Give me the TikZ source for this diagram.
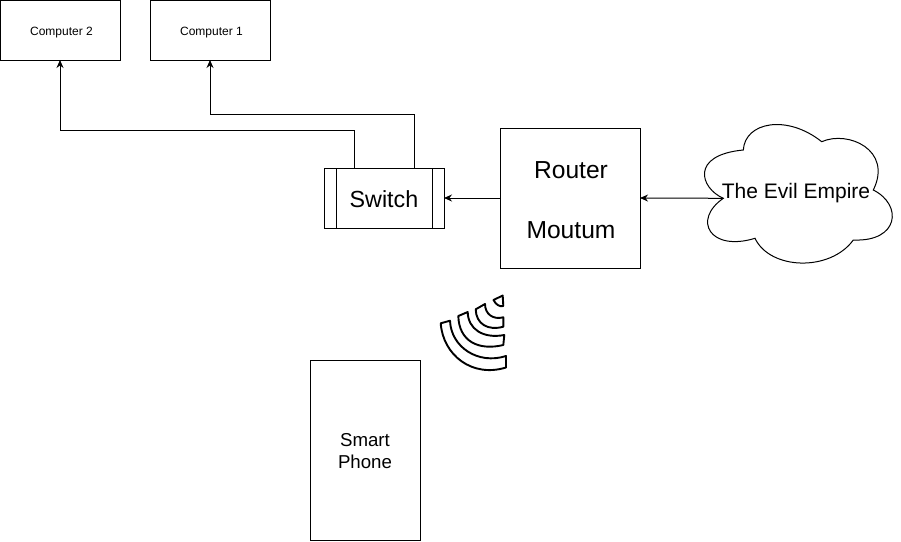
\documentclass[tikz,border=0pt]{standalone}
\usepackage{fontspec}
\setmainfont{Liberation Sans}
\usetikzlibrary{arrows.meta}
\begin{document}
\begin{tikzpicture}[x=1pt, y=-1pt, line width=1pt, >={Stealth[length=8pt,width=7pt]},
    box/.style={draw, rectangle, inner sep=0pt, outer sep=0pt, align=center},
    pcbox/.style={box, minimum width=120pt, minimum height=60pt, text height=11.6pt, text depth=0pt, font=\fontsize{12}{14}\selectfont},
    wave/.style={draw, fill=white, line width=1.9pt, line join=round}]
    \useasboundingbox (0, 0) rectangle (901, 541);

    \node[pcbox] (pc2) at (60, 30) {\hspace*{3pt}Computer 2};
    \node[pcbox] (pc1) at (210, 30) {\hspace*{3pt}Computer 1};
    \node[box, minimum width=120pt, minimum height=60pt, text height=19pt, text depth=0pt, font=\fontsize{23.3}{28}\selectfont] (switch) at (384, 198) {Switch};
    \node[box, minimum width=140pt, minimum height=140pt, font=\fontsize{24.6}{30}\selectfont] (router) at (570, 198) {\rule{0pt}{22pt}\hspace*{2pt}Router\\[30pt]\hspace*{2pt}Moutum};
    \node[box, minimum width=110pt, minimum height=180pt, font=\fontsize{18.67}{22}\selectfont] (phone) at (365, 450) {\rule{0pt}{15.6pt}Smart\\Phone};

    \draw ([xshift=12pt]switch.north west) -- ([xshift=12pt]switch.south west);
    \draw ([xshift=-12pt]switch.north east) -- ([xshift=-12pt]switch.south east);

    % cloud
    \draw (723.3, 198.3) .. controls (700, 188) and (690, 155) .. (743.3, 150)
        .. controls (745, 122) and (787, 114) .. (821.7, 141.7)
        .. controls (848, 130) and (893, 150) .. (873.3, 190)
        .. controls (903, 205) and (899, 242) .. (853.3, 240)
        .. controls (830, 272) and (770, 270) .. (755, 238.3)
        .. controls (710, 252) and (692, 220) .. cycle;
    \coordinate (cloudw) at (723.3, 198.3);
    \node[font=\fontsize{21}{25}\selectfont, inner sep=0pt] (evil) at (796, 193) {The Evil Empire};

    \coordinate (bend2) at (60, 130);
    \coordinate (bend1) at (210, 114);
    \draw[->] (cloudw) -- (router.east);
    \draw[->] (router.west) -- (switch.east);
    \draw[->] ([xshift=-30pt]switch.north) |- (bend2) -- (pc2.south);
    \draw[->] ([xshift=30pt]switch.north) |- (bend1) -- (pc1.south);

    % wifi
    \draw[wave] (493.5, 300) -- (502.7, 295.5) -- (503.3, 306) .. controls (500, 307) and (496, 305) .. cycle;
    \draw[wave] (475.7, 309.3) -- (485, 304) .. controls (485, 314) and (493, 320) .. (503.3, 317.3)
        -- (503.3, 326.7) .. controls (488, 331) and (476, 324) .. cycle;
    \draw[wave] (458.3, 316) -- (467.7, 312) .. controls (468, 329) and (483, 339) .. (504.3, 335)
        -- (503.3, 345) .. controls (478, 351) and (459, 341) .. cycle;
    \draw[wave] (440.7, 323.3) -- (450, 320.7) .. controls (451, 347) and (478, 365) .. (506, 356)
        -- (506, 367.5) .. controls (472, 378) and (443, 355) .. cycle;
\end{tikzpicture}
\end{document}
